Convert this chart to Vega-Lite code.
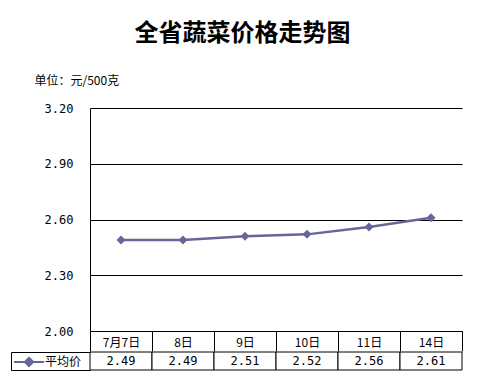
{
  "$schema": "https://vega.github.io/schema/vega-lite/v6.json",
  "background": "white",
  "padding": {"left": 10, "top": 22, "right": 5, "bottom": 5},
  "title": {"text": "全省蔬菜价格走势图", "font": "Noto Sans CJK SC", "fontSize": 24, "fontWeight": "bold", "color": "black", "anchor": "middle", "dx": 6, "offset": 28},
  "data": {"values": [
    {"date": "7月7日", "series": "平均价", "price": 2.49},
    {"date": "8日", "series": "平均价", "price": 2.49},
    {"date": "9日", "series": "平均价", "price": 2.51},
    {"date": "10日", "series": "平均价", "price": 2.52},
    {"date": "11日", "series": "平均价", "price": 2.56},
    {"date": "14日", "series": "平均价", "price": 2.61}
  ]},
  "bounds": "flush",
  "spacing": 21,
  "resolve": {"legend": {"color": "independent"}},
  "vconcat": [
    {
      "width": 372,
      "height": 223,
      "encoding": {
        "x": {"field": "date", "type": "nominal", "sort": null,
          "scale": {"type": "band", "paddingInner": 0, "paddingOuter": 0},
          "axis": {"title": null, "orient": "bottom", "tickBand": "extent", "tickSize": 20, "labelPadding": -9, "labelBaseline": "middle", "labelAngle": 0, "labelFont": "Noto Sans CJK SC", "labelFontSize": 12, "grid": false}},
        "y": {"field": "price", "type": "quantitative",
          "scale": {"domain": [2, 3.2], "nice": false, "zero": false},
          "axis": {"values": [2, 2.3, 2.6, 2.9, 3.2], "format": ".2f", "ticks": false, "labelPadding": 17, "labelFont": "DejaVu Sans Mono", "labelFontSize": 12, "grid": true, "gridColor": "black", "gridOpacity": 1,
            "title": "单位：元/500克", "titleAngle": 0, "titleAlign": "left", "titleBaseline": "middle", "titleX": -56, "titleY": -28, "titleFont": "Noto Sans CJK SC", "titleFontSize": 12, "titleFontWeight": "normal"}},
        "color": {"field": "series", "type": "nominal", "scale": {"range": ["#666699"]},
          "legend": {"orient": "none", "legendX": -77, "legendY": 238, "title": null, "padding": 0,
            "symbolType": "M-1,0L1,0M0,-0.28L0.28,0L0,0.28L-0.28,0Z", "symbolSize": 900, "symbolStrokeWidth": 2,
            "labelFont": "Noto Sans CJK SC", "labelFontSize": 12, "labelColor": "black", "labelOffset": 0}}
      },
      "layer": [
        {"mark": {"type": "line", "strokeWidth": 2.5}},
        {"mark": {"type": "point", "shape": "diamond", "filled": true, "size": 81, "opacity": 1}}
      ]
    },
    {
      "width": 372,
      "height": 18,
      "encoding": {
        "x": {"field": "date", "type": "nominal", "sort": null,
          "scale": {"type": "band", "paddingInner": 0, "paddingOuter": 0}, "axis": null},
        "y": {"field": "series", "type": "nominal",
          "scale": {"type": "band", "paddingInner": 0, "paddingOuter": 0},
          "axis": {"title": null, "labels": false, "offset": 79, "tickBand": "extent", "tickSize": -79}}
      },
      "layer": [
        {"mark": {"type": "rect", "fill": "white", "stroke": "black", "strokeWidth": 1}},
        {"mark": {"type": "text", "font": "DejaVu Sans Mono", "fontSize": 12, "color": "black"},
          "encoding": {"text": {"field": "price", "type": "quantitative", "format": ".2f"}}}
      ]
    }
  ],
  "config": {
    "view": {"stroke": null},
    "axis": {"domainColor": "black", "tickColor": "black", "labelColor": "black", "titleColor": "black", "gridColor": "black"}
  }
}
